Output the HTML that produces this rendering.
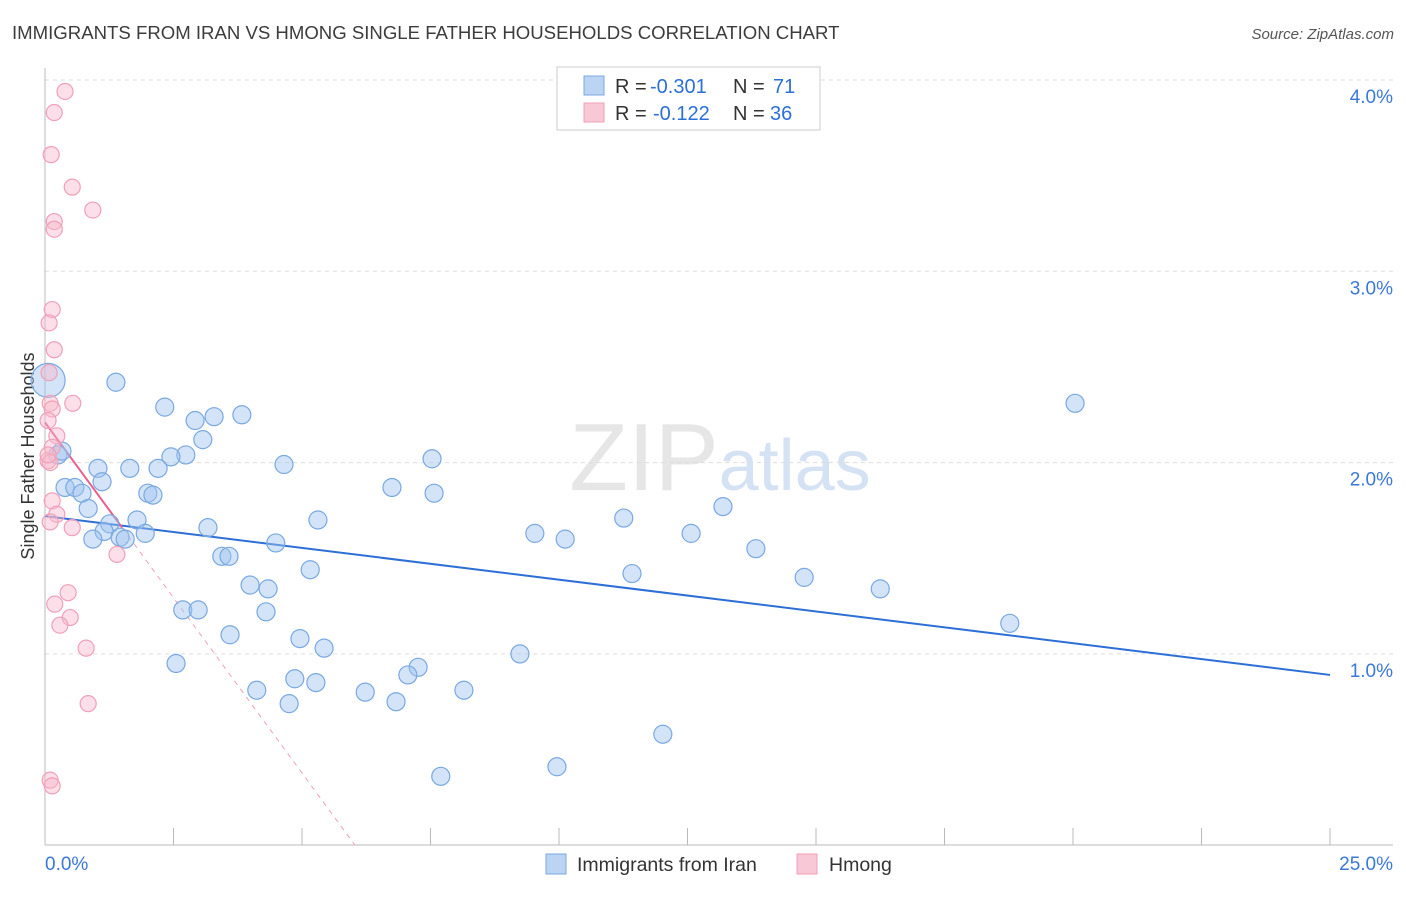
<!DOCTYPE html>
<html><head><meta charset="utf-8"><style>
body{margin:0;background:#fff;font-family:"Liberation Sans",sans-serif;}
svg text{font-family:"Liberation Sans",sans-serif;}
</style></head><body>
<svg id="chart" width="1406" height="892" xmlns="http://www.w3.org/2000/svg">
<text x="12" y="39" font-size="18.6" fill="#3c3c3c">IMMIGRANTS FROM IRAN VS HMONG SINGLE FATHER HOUSEHOLDS CORRELATION CHART</text>
<text x="1394" y="39" font-size="15" fill="#555" text-anchor="end" font-style="italic">Source: ZipAtlas.com</text>
<text x="720" y="490" font-size="96" text-anchor="middle" fill="#e6e6e6" font-family="Liberation Serif">ZIP<tspan fill="#d4e2f4" font-family="Liberation Sans" font-size="72">atlas</tspan></text>
<text transform="translate(34,456) rotate(-90)" font-size="18" fill="#333" text-anchor="middle">Single Father Households</text>
<g id="grid"></g><g id="axes"></g><g id="trend"></g><g id="points"></g>
<g>
<rect x="557" y="67" width="263" height="63" fill="#fff" stroke="#ccc"/>
<rect x="584" y="76" width="20" height="19" fill="#bcd4f4" stroke="#7aa8e0"/>
<rect x="584" y="103" width="20" height="19" fill="#f8c8d6" stroke="#f0a0b8"/>
<text x="615" y="93" font-size="20" fill="#333">R =</text>
<text x="650" y="93" font-size="20" fill="#2d6fd6">-0.301</text>
<text x="733" y="93" font-size="20" fill="#333">N =</text>
<text x="773" y="93" font-size="20" fill="#2d6fd6">71</text>
<text x="615" y="120" font-size="20" fill="#333">R =</text>
<text x="653" y="120" font-size="20" fill="#2d6fd6">-0.122</text>
<text x="733" y="120" font-size="20" fill="#333">N =</text>
<text x="770" y="120" font-size="20" fill="#2d6fd6">36</text>
</g>
<g>
<rect x="546" y="854" width="20" height="20" fill="#bcd4f4" stroke="#7aa8e0"/>
<text x="577" y="871" font-size="19.5" fill="#333">Immigrants from Iran</text>
<rect x="797" y="854" width="20" height="20" fill="#f8c8d6" stroke="#f0a0b8"/>
<text x="829" y="871" font-size="19.5" fill="#333">Hmong</text>
</g>
</svg>
<script>
const yTicks=[1,2,3,4];
const yTickLabels=["1.0%","2.0%","3.0%","4.0%"];
const xTickVals=[2.5,5,7.5,10,12.5,15,17.5,20,22.5,25];
const xEndLabels=["0.0%","25.0%"];
const iranX=[0.06,1.38,2.33,2.92,3.29,3.83,3.07,2.74,2.45,2.20,1.65,1.03,4.65,7.53,0.25,0.33,0.39,0.58,1.11,0.72,2.00,2.10,6.75,7.57,0.84,1.79,1.26,1.15,0.93,1.46,1.56,1.95,3.17,5.31,9.53,10.12,11.26,12.57,13.19,13.83,4.49,3.44,3.58,5.16,3.99,4.34,11.42,14.77,16.25,2.68,2.98,4.30,3.60,4.96,5.43,9.24,20.04,18.77,2.55,7.26,7.06,4.86,5.27,4.12,6.23,8.15,6.83,4.75,12.02,7.70,9.96];
const iranY=[2.43,2.42,2.29,2.22,2.24,2.25,2.12,2.04,2.03,1.97,1.97,1.97,1.99,2.02,2.04,2.06,1.87,1.87,1.90,1.84,1.84,1.83,1.87,1.84,1.76,1.70,1.68,1.64,1.60,1.61,1.60,1.63,1.66,1.70,1.63,1.60,1.71,1.63,1.77,1.55,1.58,1.51,1.51,1.44,1.36,1.34,1.42,1.40,1.34,1.23,1.23,1.22,1.10,1.08,1.03,1.00,2.31,1.16,0.95,0.93,0.89,0.87,0.85,0.81,0.80,0.81,0.75,0.74,0.58,0.36,0.41];
const hmongX=[0.39,0.18,0.12,0.53,0.93,0.18,0.18,0.14,0.08,0.18,0.08,0.54,0.10,0.14,0.06,0.23,0.14,0.06,0.10,0.14,0.23,0.10,0.53,1.40,0.45,0.19,0.49,0.29,0.80,0.84,0.10,0.14,0.06];
const hmongY=[3.94,3.83,3.61,3.44,3.32,3.26,3.22,2.80,2.73,2.59,2.47,2.31,2.31,2.28,2.22,2.14,2.08,2.01,2.00,1.80,1.73,1.69,1.66,1.52,1.32,1.26,1.19,1.15,1.03,0.74,0.34,0.31,2.04];
const iranTrend=[1.72,0.89];
const hmongTrend=[2.21,0.0];
const hmongSolidEnd=1.5;

const NS="http://www.w3.org/2000/svg";
const X=v=>45+v*51.4, Y=v=>80+(4-v)*191.3;
function mk(tag,parent,attrs){const e=document.createElementNS(NS,tag);for(const k in attrs)e.setAttribute(k,attrs[k]);document.getElementById(parent).appendChild(e);return e;}
yTicks.forEach((t,i)=>{
 const l=mk('line','grid',{x1:45,x2:1393,y1:Y(t),y2:Y(t),stroke:'#ddd','stroke-dasharray':'4,4'});
 
 
 const tx=mk('text','grid',{x:1393,y:Y(t)+23,'font-size':19,fill:'#3b78d8','text-anchor':'end'});tx.textContent=yTickLabels[i];
 
 
});
const ax=mk('line','axes',{x1:45,x2:45,y1:68,y2:845,stroke:'#bbb'});


const bx=mk('line','axes',{x1:45,x2:1393,y1:845,y2:845,stroke:'#bbb'});


xTickVals.forEach(t=>{const l=mk('line','axes',{x1:X(t),x2:X(t),y1:828,y2:845,stroke:'#bbb'});
 
 });
[[0,'start',45],[25,'end',1393]].forEach((d,i)=>{const t=mk('text','axes',{x:d[2],y:870,'font-size':19,fill:'#3b78d8','text-anchor':d[1]});t.textContent=xEndLabels[i];
 
 });
iranX.forEach((x,i)=>{const c=mk('circle','points',{cx:X(x),cy:Y(iranY[i]),r:i===0?17:9,fill:'rgba(160,196,240,0.45)',stroke:'#7aa8e0','stroke-width':1.2});
 
 });
hmongX.forEach((x,i)=>{const c=mk('circle','points',{cx:X(x),cy:Y(hmongY[i]),r:8,fill:'rgba(248,184,204,0.45)',stroke:'#f0a0b8','stroke-width':1.2});
 
 });
const bt=mk('line','trend',{x1:X(0),y1:Y(iranTrend[0]),x2:X(25),y2:Y(iranTrend[1]),stroke:'#2d6fd6','stroke-width':2});


const xZero=6.03;
const hy=x=>hmongTrend[0]+(hmongTrend[1]-hmongTrend[0])*x/xZero;
const hs=mk('line','trend',{x1:X(0),y1:Y(hy(0)),x2:X(hmongSolidEnd),y2:Y(hy(hmongSolidEnd)),stroke:'#e8608c','stroke-width':2});


const hd=mk('line','trend',{x1:X(hmongSolidEnd),y1:Y(hy(hmongSolidEnd)),x2:X(xZero),y2:Y(hy(xZero)),stroke:'#f0a0b8','stroke-width':1,'stroke-dasharray':'5,5'});


</script>
</body></html>
